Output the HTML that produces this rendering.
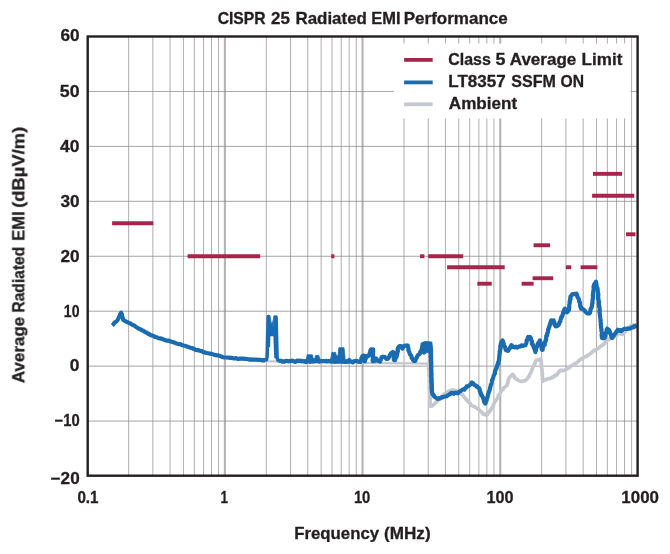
<!DOCTYPE html>
<html><head><meta charset="utf-8"><title>CISPR 25 Radiated EMI Performance</title>
<style>html,body{margin:0;padding:0;background:#fff;}body{width:670px;height:554px;overflow:hidden;font-family:"Liberation Sans",sans-serif;}svg{display:block}</style>
</head><body>
<svg width="670" height="554" viewBox="0 0 670 554">
<rect width="670" height="554" fill="#fff"/>
<g><line x1="128.64" y1="36.5" x2="128.64" y2="476.0" stroke="#aeaeae" stroke-width="1.0"/><line x1="152.89" y1="36.5" x2="152.89" y2="476.0" stroke="#aeaeae" stroke-width="1.0"/><line x1="170.09" y1="36.5" x2="170.09" y2="476.0" stroke="#aeaeae" stroke-width="1.0"/><line x1="183.43" y1="36.5" x2="183.43" y2="476.0" stroke="#aeaeae" stroke-width="1.0"/><line x1="194.33" y1="36.5" x2="194.33" y2="476.0" stroke="#aeaeae" stroke-width="1.0"/><line x1="203.55" y1="36.5" x2="203.55" y2="476.0" stroke="#aeaeae" stroke-width="1.0"/><line x1="211.53" y1="36.5" x2="211.53" y2="476.0" stroke="#aeaeae" stroke-width="1.0"/><line x1="218.58" y1="36.5" x2="218.58" y2="476.0" stroke="#aeaeae" stroke-width="1.0"/><line x1="224.88" y1="36.5" x2="224.88" y2="476.0" stroke="#b4b4b4" stroke-width="2.1"/><line x1="266.32" y1="36.5" x2="266.32" y2="476.0" stroke="#aeaeae" stroke-width="1.0"/><line x1="290.56" y1="36.5" x2="290.56" y2="476.0" stroke="#aeaeae" stroke-width="1.0"/><line x1="307.76" y1="36.5" x2="307.76" y2="476.0" stroke="#aeaeae" stroke-width="1.0"/><line x1="321.11" y1="36.5" x2="321.11" y2="476.0" stroke="#aeaeae" stroke-width="1.0"/><line x1="332.01" y1="36.5" x2="332.01" y2="476.0" stroke="#aeaeae" stroke-width="1.0"/><line x1="341.22" y1="36.5" x2="341.22" y2="476.0" stroke="#aeaeae" stroke-width="1.0"/><line x1="349.21" y1="36.5" x2="349.21" y2="476.0" stroke="#aeaeae" stroke-width="1.0"/><line x1="356.25" y1="36.5" x2="356.25" y2="476.0" stroke="#aeaeae" stroke-width="1.0"/><line x1="362.55" y1="36.5" x2="362.55" y2="476.0" stroke="#b4b4b4" stroke-width="2.1"/><line x1="403.99" y1="36.5" x2="403.99" y2="476.0" stroke="#aeaeae" stroke-width="1.0"/><line x1="428.24" y1="36.5" x2="428.24" y2="476.0" stroke="#aeaeae" stroke-width="1.0"/><line x1="445.44" y1="36.5" x2="445.44" y2="476.0" stroke="#aeaeae" stroke-width="1.0"/><line x1="458.78" y1="36.5" x2="458.78" y2="476.0" stroke="#aeaeae" stroke-width="1.0"/><line x1="469.68" y1="36.5" x2="469.68" y2="476.0" stroke="#aeaeae" stroke-width="1.0"/><line x1="478.90" y1="36.5" x2="478.90" y2="476.0" stroke="#aeaeae" stroke-width="1.0"/><line x1="486.88" y1="36.5" x2="486.88" y2="476.0" stroke="#aeaeae" stroke-width="1.0"/><line x1="493.93" y1="36.5" x2="493.93" y2="476.0" stroke="#aeaeae" stroke-width="1.0"/><line x1="500.22" y1="36.5" x2="500.22" y2="476.0" stroke="#b4b4b4" stroke-width="2.1"/><line x1="541.67" y1="36.5" x2="541.67" y2="476.0" stroke="#aeaeae" stroke-width="1.0"/><line x1="565.91" y1="36.5" x2="565.91" y2="476.0" stroke="#aeaeae" stroke-width="1.0"/><line x1="583.11" y1="36.5" x2="583.11" y2="476.0" stroke="#aeaeae" stroke-width="1.0"/><line x1="596.46" y1="36.5" x2="596.46" y2="476.0" stroke="#aeaeae" stroke-width="1.0"/><line x1="607.36" y1="36.5" x2="607.36" y2="476.0" stroke="#aeaeae" stroke-width="1.0"/><line x1="616.57" y1="36.5" x2="616.57" y2="476.0" stroke="#aeaeae" stroke-width="1.0"/><line x1="624.56" y1="36.5" x2="624.56" y2="476.0" stroke="#aeaeae" stroke-width="1.0"/><line x1="631.60" y1="36.5" x2="631.60" y2="476.0" stroke="#aeaeae" stroke-width="1.0"/></g>
<g><line x1="87.2" y1="421.06" x2="637.9" y2="421.06" stroke="#858585" stroke-width="0.75"/><line x1="87.2" y1="366.12" x2="637.9" y2="366.12" stroke="#858585" stroke-width="0.75"/><line x1="87.2" y1="311.19" x2="637.9" y2="311.19" stroke="#858585" stroke-width="0.75"/><line x1="87.2" y1="256.25" x2="637.9" y2="256.25" stroke="#858585" stroke-width="0.75"/><line x1="87.2" y1="201.31" x2="637.9" y2="201.31" stroke="#858585" stroke-width="0.75"/><line x1="87.2" y1="146.38" x2="637.9" y2="146.38" stroke="#858585" stroke-width="0.75"/><line x1="87.2" y1="91.44" x2="637.9" y2="91.44" stroke="#858585" stroke-width="0.75"/></g>
<polyline fill="none" stroke="#c6c8d0" stroke-width="2.2" stroke-linejoin="round" stroke-linecap="butt" points="112.4,325.6 117.6,320.6 121.2,314.0 123.3,320.5 128.4,323.2 137.3,328.3 144.8,332.6 152.2,336.6 159.7,339.3 170.1,342.2 183.6,346.2 194.0,349.6 209.9,354.2 224.9,358.0 239.8,359.3 254.7,360.3 265.1,361.2 285.0,361.8 305.0,362.0 330.0,362.2 355.0,363.0 380.0,363.2 415.0,363.3 428.5,363.6"/>
<polyline fill="none" stroke="#c6c8d0" stroke-width="3.7" stroke-linejoin="round" stroke-linecap="butt" points="428.5,363.6 428.5,364.5 428.7,365.7 428.8,367.3 428.6,368.7 428.7,369.8 428.8,370.8 429.1,372.7 429.0,373.4 429.3,375.4 429.4,376.1 429.6,377.1 429.7,378.5 429.6,380.0 429.5,380.9 429.6,382.8 429.6,383.8 429.8,384.9 429.8,385.8 429.6,387.2 429.9,388.7 429.8,390.1 429.9,391.0 430.1,392.7 429.9,393.8 430.0,395.3 430.1,396.0 430.3,397.1 430.1,398.9 430.0,400.0 430.0,401.4 430.3,402.5 430.4,403.5 430.4,405.0 430.3,406.2 431.2,405.9 432.3,406.0 433.0,405.3 433.9,404.5 434.7,403.7 435.8,402.6 436.7,402.3 437.5,400.9 438.1,400.4 439.0,399.5 439.6,398.6 440.5,397.5 441.3,397.2 442.1,395.9 443.0,395.7 443.9,394.5 444.7,393.7 446.0,393.3 447.1,392.6 448.0,391.5 448.9,391.0 449.9,391.1 451.2,390.1 452.0,390.0 453.0,390.0 454.1,390.4 455.4,390.5 456.5,390.9 457.4,391.5 458.6,392.4 459.9,393.2 460.8,393.9 461.9,394.5 462.8,395.0 463.6,396.6 464.4,397.5 464.9,398.0 465.6,399.1 466.3,399.5 467.3,400.8 468.1,401.4 469.1,402.2 469.8,403.2 470.8,404.3 471.7,405.6 472.8,406.2 473.9,406.4 474.8,407.1 476.0,407.5 477.3,408.8 478.2,408.9 479.1,409.8 479.8,410.3 480.8,411.4 481.9,412.2 482.7,413.4 483.4,414.3 484.5,414.0 485.4,414.4 486.3,415.3 487.1,414.8 488.0,413.6 488.4,412.4 489.2,411.9 490.1,411.0 490.8,409.8 491.3,408.5 492.1,408.0 492.8,406.8 493.3,405.6 493.7,404.3 494.3,402.8 494.8,401.9 495.5,401.2 496.2,399.9 497.0,398.8 497.5,398.3 498.1,396.7 498.3,395.6 498.9,394.6 499.6,394.2 500.3,392.8 500.7,391.8 501.4,391.2 501.9,390.1 502.9,389.4 503.4,388.2 504.4,387.4 505.1,386.9 506.1,386.1 507.1,385.0 507.6,383.7 507.7,382.9 508.2,381.0 508.3,379.7 508.9,379.0 509.1,377.5 509.8,377.0 511.1,376.1 511.7,375.2 512.6,374.4 513.1,374.9 514.2,376.4 514.7,377.6 515.4,378.5 516.1,379.1 517.2,379.3 517.9,379.8 518.8,380.6 519.8,380.9 520.8,381.4 521.8,381.5 523.1,380.8 524.4,380.9 525.5,380.3 526.3,379.8 527.3,378.5 528.1,377.2 529.0,376.7 529.5,375.2 529.8,374.6 530.4,373.2 531.1,372.1 531.4,370.9 532.0,369.9 532.5,368.5 532.8,367.4 533.4,366.0 534.2,365.0 534.6,364.0 535.3,362.6 535.6,361.5 536.1,360.3 537.3,360.2 538.4,359.7 539.5,359.8 540.7,359.1 540.9,360.6 541.2,361.2 541.2,363.0 541.5,363.5 541.3,364.9 541.4,365.9 541.6,367.5 541.9,368.5 542.1,370.1 541.9,371.3 542.2,372.0 542.4,374.1 542.1,375.4 542.3,376.2 542.6,377.8 542.3,378.8 542.5,380.0 542.6,381.4 543.4,380.7 544.6,379.9 545.4,379.8 546.6,379.4 547.5,378.9 549.0,378.7 549.9,378.7 551.3,377.9 552.4,377.7 553.1,376.5 554.0,376.4 555.1,375.2 556.2,375.4 557.2,374.4 557.9,373.3 558.2,373.0 559.0,372.0 559.5,370.9 560.5,370.3 561.9,370.4 562.8,370.6 564.3,370.2 565.4,369.7 566.2,369.4 567.1,368.9 568.2,367.8 569.2,367.8 570.1,366.8 571.1,365.9 572.3,365.4 573.2,364.7 574.3,364.1 575.6,363.8 576.5,362.8 577.7,362.0 578.5,361.2 579.4,360.2 580.3,359.4 581.4,359.1 582.5,358.6 583.2,357.9 584.5,357.0 585.5,356.7 586.3,356.5 587.3,355.6 588.2,354.9 589.3,354.6 590.0,353.8 591.2,352.9 592.0,352.1 592.9,351.4 593.7,350.6 594.7,350.6 595.8,349.5 596.6,349.5 597.8,348.6 598.9,348.1 599.6,347.0 600.5,346.5 601.4,345.8 602.5,345.1 603.2,344.7 604.3,343.6 604.7,343.2 605.5,341.8 606.2,341.1 607.2,340.4 608.1,339.9 608.9,339.4 609.8,338.7 610.8,338.4 611.9,338.0 612.7,336.9 613.8,336.4 615.0,336.0 616.1,335.5 617.1,335.0 617.9,333.8 619.0,333.3 620.4,333.4 621.4,334.2 622.5,334.5 623.1,333.8 624.3,332.6 625.1,331.8 625.7,330.5 626.6,329.8 627.6,328.8 628.3,327.5 629.3,327.4 630.3,326.7 631.0,325.6 631.9,325.5 633.0,325.1 634.0,325.8 635.4,326.0 636.6,326.3"/>
<polyline fill="none" stroke="#1b6bb0" stroke-width="4.2" stroke-linejoin="round" stroke-linecap="butt" points="112.2,325.3 113.6,324.1 114.9,322.3 116.4,321.5 117.6,320.0 118.3,318.6 119.1,316.8 119.8,315.4 120.3,314.0 121.2,312.7 121.8,314.3 122.3,316.7 122.8,318.1 123.3,320.0 125.0,321.0 126.8,321.8 128.4,322.6 129.9,323.2 131.2,324.1 132.9,325.0 134.4,325.7 135.7,326.7 137.3,327.7 138.9,328.7 140.4,329.2 141.8,330.2 143.3,330.8 144.8,331.9 146.4,332.4 147.9,333.7 149.1,334.1 150.8,335.2 152.2,335.6 153.7,336.0 155.1,337.0 156.6,337.3 158.1,337.9 159.7,338.4 161.6,338.6 163.3,339.4 165.0,340.0 166.5,340.6 168.4,340.5 170.1,341.3 171.6,341.8 173.5,342.2 175.0,342.8 176.8,343.6 178.4,344.1 180.3,344.2 182.1,345.1 183.6,345.5 185.5,345.9 187.0,346.6 189.0,347.3 190.5,347.8 192.2,348.1 194.0,349.0 195.4,349.7 196.9,350.2 198.4,350.2 200.0,350.8 201.7,351.1 203.3,352.1 205.1,352.5 206.6,353.0 208.4,353.3 209.9,353.7 211.9,353.9 213.7,354.6 215.6,355.2 217.3,355.3 219.4,355.8 221.1,356.4 223.0,357.2 224.9,357.5 226.9,357.5 228.7,357.7 230.5,357.9 232.2,357.9 234.1,358.5 236.1,358.2 238.1,358.9 239.8,358.7 241.6,358.6 243.4,358.7 245.3,358.8 247.2,359.0 249.1,359.6 251.1,359.4 252.8,359.6 254.7,359.7 256.4,359.7 258.1,359.8 260.2,359.8 261.8,360.3 263.7,360.1 265.3,360.4"/>
<polyline fill="none" stroke="#1b6bb0" stroke-width="4.2" stroke-linejoin="round" stroke-linecap="butt" points="278.6,361.0 280.1,360.9 280.8,360.7 281.8,361.1 282.4,361.7 283.6,361.4 284.4,361.7 285.0,361.2 285.7,360.9 287.0,360.9 288.0,361.2 288.5,361.3 289.3,361.2 290.7,361.2 291.8,360.6 292.4,360.9 293.1,360.9 294.2,361.5 295.3,362.0 296.2,361.4 296.9,360.7 298.1,361.0 298.7,360.7 299.6,361.0 300.6,360.6 301.6,361.3 302.5,360.9 303.6,361.4 304.8,361.6 305.3,361.2 306.0,362.0 307.3,361.4 307.9,361.1 309.1,361.2 310.3,361.8 310.8,361.4 312.0,361.3 312.8,361.5 313.6,361.5 314.9,361.1 315.4,360.6 316.6,361.0 317.5,360.5 318.6,361.3 319.4,361.6 320.4,360.9 321.5,361.1 322.4,361.3 323.4,361.1 324.3,361.0 325.0,361.1 326.2,360.9 327.1,361.4 328.0,361.2 329.3,361.1 330.0,361.2 331.1,361.6 332.0,361.4 332.8,360.9 333.8,361.3 334.8,361.8 335.4,361.2 336.7,361.7 337.5,361.5 338.6,361.6 339.1,361.1 340.2,361.3 341.0,361.6 341.8,361.7 342.8,361.4 343.5,361.5 344.7,361.9 345.8,361.9 346.4,361.3 347.4,361.1 348.3,361.6 349.2,361.5 350.2,361.5 351.2,361.5 352.0,361.8 352.9,362.4 353.4,361.7 353.8,361.6 354.7,361.0 356.0,360.9 357.2,361.1 358.0,361.6 359.4,361.6 360.5,361.9 360.9,361.0 360.9,360.4 361.2,360.4 361.4,358.9 361.4,358.0 362.0,357.0 362.1,356.8 362.8,355.8 364.0,355.7 365.2,356.0 365.4,356.9 365.0,357.7 364.7,358.9 365.0,359.9 364.9,361.0 364.8,361.4 365.0,360.8 365.1,359.8 365.6,358.7 366.2,357.8 366.2,356.8 366.8,357.0 367.5,355.9 368.0,356.0 369.0,355.6 369.1,355.1 369.4,353.8 369.5,353.9 370.2,352.5 370.3,350.8 370.6,350.5 371.2,349.3 372.3,349.7 373.2,349.5 373.1,350.3 373.3,351.3 372.8,352.4 373.0,353.7 373.1,355.0 373.0,356.4 373.0,357.1 372.8,357.7 372.8,359.0 372.6,360.4 372.8,361.1 373.8,361.2 374.2,361.2 374.4,360.8 375.0,359.5 375.4,358.5 376.0,358.4 376.2,359.4 376.9,359.6 377.7,360.5 378.0,361.0 379.2,361.0 380.0,361.6 380.3,360.9 380.7,359.9 381.0,358.9 381.1,358.7 381.6,357.2 382.5,356.8 383.9,356.9 385.0,357.0 385.6,358.0 386.5,359.0 387.1,359.0 388.0,358.6 388.8,357.5 389.4,357.1 389.6,355.8 390.0,354.7 390.4,354.3 391.0,353.1 391.5,353.0 392.3,352.3 392.6,352.0 393.4,352.2 393.6,353.0 393.7,353.4 393.9,354.4 393.8,355.1 393.9,356.8 394.1,358.0 393.8,359.4 394.2,360.1 395.2,360.1 395.2,358.8 395.6,358.4 395.8,357.7 396.4,357.1 396.8,355.8 396.9,355.2 397.2,354.1 397.4,352.7 397.3,351.7 397.9,351.4 397.9,350.0 397.6,349.5 398.0,348.0 398.5,347.3 399.2,346.2 400.3,346.0 401.5,346.2 401.9,347.3 401.8,347.6 402.4,348.6 402.5,348.5 403.1,347.4 403.5,346.0 403.6,346.0 404.0,346.4 405.2,345.5 406.3,345.7 407.2,345.3 407.8,345.6 407.7,346.1 408.3,347.7 408.4,349.0 408.4,350.4 408.8,351.0 409.0,351.4 409.4,352.7 410.0,354.1 410.0,354.5 410.9,355.3 411.5,356.5 411.7,358.1 412.4,358.5 412.8,359.7 413.0,360.1 414.0,361.1 414.7,360.9 415.4,360.8 415.7,359.6 415.9,359.1 416.5,358.0 416.8,357.7 417.1,356.7 417.6,355.6 418.5,354.7 419.5,354.0 419.8,353.8 420.1,352.5 420.6,351.5 421.2,350.4 421.6,349.4 422.0,349.0 421.9,347.5 422.2,347.0 422.4,345.7 422.6,344.2 422.8,344.0 423.8,344.1 424.9,343.5 425.7,343.2 426.6,343.9 427.3,343.6 428.0,343.3 428.8,344.0 429.6,343.6 429.3,344.9 429.7,345.2 429.9,346.1 430.2,346.8 430.3,348.1 430.3,348.3 430.3,349.0 430.6,350.0 431.0,350.4 430.7,352.0 430.8,353.2 430.8,354.0 430.8,355.4 430.5,356.6 430.9,357.5 431.0,359.1 430.9,359.4 430.8,361.0 431.0,361.2 430.9,362.1 430.9,363.1 431.2,363.6 430.9,365.5 431.1,366.4 431.1,367.0 430.9,368.7 431.1,369.3 431.2,370.7 431.1,371.8 431.3,372.9 431.4,374.1 431.4,374.4 431.1,375.5 431.3,376.8 431.3,377.9 431.5,378.8 431.6,379.2 431.2,380.3 431.5,381.0 431.3,382.1 431.5,382.8 431.7,384.3 431.7,385.8 431.7,386.0 431.8,387.4 431.6,388.0 431.7,388.6 432.0,389.8 431.8,391.0 432.0,391.9 432.2,393.1 432.3,393.5 432.5,394.4 433.3,394.6 433.9,395.5 434.0,396.3 434.3,396.5 435.2,397.3 436.3,398.0 436.6,398.0 437.6,399.0 438.6,398.8 439.0,398.2 439.9,398.5 440.5,397.9 441.6,397.7 442.1,397.2 443.0,397.1 443.7,396.7 444.9,396.5 445.9,396.5 446.6,396.3 447.5,395.3 448.2,395.2 449.0,394.7 449.5,394.3 450.5,393.3 451.1,393.6 451.8,392.8 453.0,393.4 454.0,393.8 454.5,392.9 455.6,392.7 456.5,393.0 457.6,393.3 458.3,392.7 459.0,391.7 459.7,391.5 460.9,391.0 461.5,390.3 462.3,389.8 462.9,389.4 463.7,389.1 464.5,389.5 465.0,388.5 465.4,388.0 466.4,387.3 466.7,386.3 467.8,386.3 468.7,386.0 469.2,385.5 470.2,384.8 470.9,383.9 471.0,383.2 471.9,382.4 472.2,382.6 473.2,383.2 473.7,384.6 474.1,384.7 475.2,385.1 475.5,385.5 476.0,385.5 476.7,386.6 477.4,386.7 477.9,387.6 479.1,388.2 479.2,388.3 479.8,389.8 479.7,391.1 480.4,391.8 480.6,393.6 481.3,393.9 481.3,395.2 481.8,395.5 482.0,395.6 482.7,397.2 483.2,397.6 483.3,398.8 483.8,399.0 483.9,400.2 484.0,401.6 484.7,402.2 485.2,403.4 485.4,403.5 485.8,402.0 485.8,401.8 486.3,401.5 486.5,400.5 486.7,400.0 486.8,398.2 487.6,397.1 487.6,396.7 488.0,394.8 488.5,393.4 488.6,393.4 488.5,392.8 489.0,391.8 489.6,390.3 489.7,390.1 489.8,389.4 490.1,388.0 490.1,387.6 490.6,386.2 490.8,384.9 491.0,384.8 491.3,383.8 491.7,382.6 491.8,382.0 492.0,380.9 492.0,380.5 492.6,379.2 492.8,378.5 493.2,377.3 493.5,376.2 493.7,375.4 494.0,375.1 494.5,374.0 495.0,373.4 494.8,372.0 495.3,370.6 495.7,369.8 495.6,369.8 496.2,368.3 496.7,367.9 496.9,366.5 497.3,365.2 497.5,364.5 497.9,363.5 498.5,363.3 498.3,362.1 498.7,361.0 498.9,360.5 498.9,360.2 499.1,358.7 499.1,358.0 499.3,356.7 499.4,356.4 499.4,354.9 499.8,353.5 499.8,352.8 499.6,351.6 500.1,351.3 500.1,350.2 500.2,348.9 500.6,348.6 500.4,347.0 500.2,346.7 500.5,345.3 501.0,345.0 500.9,343.5 501.3,342.3 501.6,341.9 502.3,341.5 502.5,340.3 503.0,341.4 503.4,342.8 503.5,342.9 503.6,343.2 504.0,344.8 504.4,346.0 505.0,347.1 505.3,348.4 505.6,348.8 505.7,349.9 506.2,350.3 507.4,350.2 507.9,350.9 508.5,350.3 508.9,349.2 509.8,348.3 510.2,347.1 510.6,346.8 510.8,346.3 511.4,345.1 512.1,345.6 512.5,346.2 512.8,347.0 513.7,347.0 514.9,347.4 515.9,346.7 516.5,346.9 517.3,347.6 518.0,347.1 518.9,346.8 519.2,346.4 520.0,346.4 520.8,346.2 521.4,345.4 522.5,345.6 523.0,345.8 524.1,345.3 524.7,345.3 525.5,345.1 525.8,344.2 526.2,343.2 526.6,342.1 526.6,340.4 527.1,340.0 527.8,339.0 527.7,338.4 527.7,337.9 528.3,336.9 529.3,337.2 530.2,337.1 530.7,338.0 531.0,338.9 531.2,340.2 531.6,340.4 532.0,342.0 531.8,343.7 532.4,343.8 532.9,344.7 533.0,345.5 533.4,346.1 533.7,347.4 534.2,348.0 534.3,348.9 535.0,350.1 535.0,350.6 535.4,352.0 535.4,352.1 535.5,350.7 535.9,350.7 535.8,349.5 536.2,349.2 536.2,347.5 536.8,347.1 537.1,346.8 537.3,345.4 537.5,345.3 537.7,343.9 538.5,342.7 538.6,342.8 539.2,341.8 539.7,340.9 540.0,340.4 539.9,341.9 540.4,342.1 540.4,343.0 540.8,343.8 541.2,345.5 541.3,345.9 541.5,346.9 541.6,348.3 541.7,348.5 541.9,349.8 542.7,349.8 542.7,348.3 542.9,346.6 543.4,346.3 543.7,345.5 544.3,345.1 544.8,344.7 544.6,343.0 545.2,341.5 545.3,341.4 545.8,340.9 545.8,339.8 546.1,339.4 546.2,337.5 546.2,336.0 546.9,335.6 547.2,335.4 547.1,333.9 547.6,332.8 547.8,332.2 548.0,331.7 548.2,330.4 548.1,329.4 548.7,328.9 548.8,327.3 549.3,326.9 549.6,325.7 549.8,325.4 549.8,324.2 550.2,324.1 550.6,322.2 550.7,321.8 551.2,320.7 551.3,320.4 552.4,320.5 553.7,320.4 553.6,321.9 554.3,322.1 554.6,323.2 554.5,324.7 554.9,324.9 555.5,326.2 555.5,326.3 555.9,325.9 556.9,325.6 557.3,326.0 558.3,325.1 558.9,324.5 559.1,323.4 559.4,322.5 559.9,322.0 560.4,321.2 560.4,320.5 560.8,319.0 561.0,318.6 561.3,317.1 561.9,316.9 562.3,316.1 562.5,315.1 562.9,313.8 563.0,313.5 563.5,312.0 563.8,310.9 564.5,310.1 564.4,309.1 564.9,308.7 565.5,309.4 565.6,310.5 565.9,311.3 566.6,312.2 567.0,312.3 567.8,311.1 568.0,311.2 568.9,309.9 568.7,309.5 569.2,307.9 569.3,306.6 569.2,306.2 569.3,304.9 569.6,303.6 569.8,303.0 569.6,301.7 569.7,301.3 569.9,301.0 570.2,299.2 570.6,299.0 570.3,297.5 570.6,296.3 571.4,295.8 572.2,294.3 572.4,294.2 573.7,294.1 574.6,293.8 575.2,294.1 576.3,293.6 576.7,294.6 577.2,295.2 577.2,296.2 577.3,296.3 578.0,297.8 578.6,298.9 579.1,299.7 579.1,300.5 579.1,301.2 579.5,302.1 580.0,302.5 580.0,303.8 580.1,304.1 580.2,305.5 580.2,306.6 580.8,306.9 581.1,307.3 581.0,308.7 581.5,308.2 582.5,309.0 583.2,309.4 583.8,309.9 584.2,310.0 584.9,310.9 585.6,312.0 586.2,312.5 587.3,313.4 588.5,313.3 589.6,313.4 590.1,312.6 590.2,311.6 590.5,310.4 590.6,308.9 591.1,308.6 591.5,307.8 591.6,307.2 592.0,305.5 592.0,305.2 592.3,304.1 592.2,303.5 592.6,303.1 592.5,301.6 592.5,299.9 592.6,299.6 593.0,298.5 592.9,297.4 593.2,296.2 592.9,295.7 592.8,295.3 593.1,294.0 593.1,292.2 593.3,291.4 593.5,290.2 593.6,289.1 593.8,287.7 593.5,286.7 593.9,285.7 594.1,284.9 594.3,284.1 594.5,283.9 595.2,283.0 595.8,282.9 596.0,281.7 596.1,283.0 596.4,283.7 596.4,285.0 596.6,285.5 596.5,287.1 597.0,287.6 597.6,288.5 597.6,289.5 597.7,290.3 597.8,291.1 597.8,291.5 597.8,293.3 598.4,293.9 598.3,295.4 598.0,295.5 598.2,296.8 598.1,298.3 598.4,298.7 598.3,299.4 598.8,301.2 599.0,301.8 599.0,303.2 598.7,304.2 599.1,304.8 599.2,305.8 599.1,306.7 599.5,307.1 599.6,308.8 599.8,310.1 599.6,310.9 599.3,311.3 599.7,312.8 599.8,313.9 599.9,315.1 599.9,315.4 600.2,316.9 600.2,317.3 600.3,318.7 600.6,320.3 600.7,320.7 600.5,321.8 600.8,322.7 601.0,323.1 600.7,324.5 601.1,326.3 601.0,326.7 601.0,327.5 601.2,328.6 601.6,329.4 601.4,330.1 601.5,331.7 601.7,332.0 602.0,332.7 601.9,333.9 601.6,334.7 601.8,335.9 601.9,337.7 602.1,338.0 603.3,338.3 604.4,338.0 604.8,337.7 604.8,336.1 605.4,335.8 605.5,334.5 605.4,333.5 606.0,332.4 606.6,332.3 606.6,330.8 606.7,329.6 607.2,328.7 607.9,329.2 608.3,330.2 609.0,329.9 609.6,331.0 609.8,331.8 610.1,332.6 610.1,333.0 610.8,334.5 611.4,335.8 611.2,336.3 611.9,337.4 611.9,338.0 612.6,337.9 612.9,336.6 613.9,335.2 614.3,335.1 615.0,333.8 615.4,333.3 616.0,332.3 616.2,332.0 617.0,330.9 617.8,329.8 618.8,330.6 619.7,330.1 620.6,330.2 621.3,331.0 622.0,330.4 622.6,329.9 623.5,329.3 624.5,328.7 624.8,328.7 625.6,328.9 626.7,328.7 627.2,328.8 628.3,328.7 629.4,328.7 629.8,328.6 630.4,328.2 631.3,327.9 632.2,327.2 633.0,327.5 634.2,326.9 634.6,325.9 635.5,326.0 635.9,325.4 636.6,325.1"/>
<polyline fill="none" stroke="#1b6bb0" stroke-width="3.5" stroke-linejoin="round" stroke-linecap="butt" points="264.8,360.4 266.5,359.6 267.1,357.0 268.2,316.4 268.9,316.4 268.4,346.0 268.7,333.0 270.0,328.0 272.6,328.0 275.0,333.0 275.9,357.0 275.3,330.0 274.9,316.9 276.1,316.9 277.1,357.0 277.6,359.8 279.2,361.0"/>
<polygon fill="#1b6bb0" stroke="#1b6bb0" stroke-width="0.8" stroke-linejoin="round" points="420.8,352.5 422.2,344 423,342 431.9,342 432.6,350 433.2,391 430.4,391 429.6,353 427,352.5 424,354.5"/>
<polygon fill="#1b6bb0" points="270.3,317 271.9,323.6 273.4,317 273.9,336.3 269.6,336.3"/>
<polygon fill="#1b6bb0" stroke="#1b6bb0" stroke-width="0.8" stroke-linejoin="round" points="304.6,361.0 306.3,359.4 307.2,354.8 312.4,354.8 313.2,358.6 314.8,358.6 315.5,355.4 318.9,355.4 319.8,359.4 321.0,361.0 321.0,362.8 304.6,362.8"/>
<polygon fill="#1b6bb0" stroke="#1b6bb0" stroke-width="0.8" stroke-linejoin="round" points="329.6,361.0 331.2,357.0 331.8,352.4 335.6,352.4 336.4,355.8 338.0,355.8 338.5,350.0 338.9,347.7 344.0,347.7 344.5,352.0 345.2,359.6 346.0,361.0 346.0,362.8 329.6,362.8"/>
<polygon fill="#1b6bb0" stroke="#1b6bb0" stroke-width="0.8" stroke-linejoin="round" points="347.0,361.0 348.2,358.3 350.2,358.3 351.4,361.0 351.4,362.8 347.0,362.8"/>
<rect x="394" y="43.6" width="236.6" height="74.8" fill="#fff"/>
<line x1="112.1" y1="223.29" x2="153.3" y2="223.29" stroke="#a8244c" stroke-width="3.9"/>
<line x1="187.6" y1="256.25" x2="260.2" y2="256.25" stroke="#a8244c" stroke-width="3.9"/>
<line x1="331.2" y1="256.25" x2="334.4" y2="256.25" stroke="#a8244c" stroke-width="3.9"/>
<line x1="420" y1="256.25" x2="424.4" y2="256.25" stroke="#a8244c" stroke-width="3.9"/>
<line x1="428.2" y1="256.25" x2="463.2" y2="256.25" stroke="#a8244c" stroke-width="3.9"/>
<line x1="447.1" y1="267.24" x2="504.7" y2="267.24" stroke="#a8244c" stroke-width="3.9"/>
<line x1="565.9" y1="267.24" x2="571.3" y2="267.24" stroke="#a8244c" stroke-width="3.9"/>
<line x1="580.6" y1="267.24" x2="597.4" y2="267.24" stroke="#a8244c" stroke-width="3.9"/>
<line x1="477.3" y1="283.72" x2="491.7" y2="283.72" stroke="#a8244c" stroke-width="3.9"/>
<line x1="521.6" y1="283.72" x2="533.6" y2="283.72" stroke="#a8244c" stroke-width="3.9"/>
<line x1="532.6" y1="278.23" x2="553.2" y2="278.23" stroke="#a8244c" stroke-width="3.9"/>
<line x1="533.6" y1="245.26" x2="550.1" y2="245.26" stroke="#a8244c" stroke-width="3.9"/>
<line x1="593" y1="173.84" x2="622" y2="173.84" stroke="#a8244c" stroke-width="3.9"/>
<line x1="592.1" y1="195.82" x2="634.3" y2="195.82" stroke="#a8244c" stroke-width="3.9"/>
<line x1="626" y1="234.28" x2="635.5" y2="234.28" stroke="#a8244c" stroke-width="3.9"/>
<rect x="87.7" y="36.5" width="549.90" height="439.2" fill="none" stroke="#231f20" stroke-width="2.4"/>
<line x1="404.1" y1="59.9" x2="432.7" y2="59.9" stroke="#a8244c" stroke-width="3.8"/>
<line x1="404.1" y1="82.4" x2="432.7" y2="82.4" stroke="#1b6bb0" stroke-width="3.8"/>
<line x1="404.1" y1="104.3" x2="432.7" y2="104.3" stroke="#c6c8d0" stroke-width="3.8"/>
<g opacity="0.999">
<text x="217.66" y="23.7" font-size="16.4" textLength="48.01" lengthAdjust="spacingAndGlyphs" font-family="Liberation Sans, sans-serif" font-weight="bold" fill="#231f20" stroke="#231f20" stroke-width="0.3">CISPR</text>
<text x="271.11" y="23.7" font-size="16.4" textLength="18.84" lengthAdjust="spacingAndGlyphs" font-family="Liberation Sans, sans-serif" font-weight="bold" fill="#231f20" stroke="#231f20" stroke-width="0.3">25</text>
<text x="295.45" y="23.7" font-size="16.4" textLength="71.44" lengthAdjust="spacingAndGlyphs" font-family="Liberation Sans, sans-serif" font-weight="bold" fill="#231f20" stroke="#231f20" stroke-width="0.3">Radiated</text>
<text x="371.17" y="23.7" font-size="16.4" textLength="29.30" lengthAdjust="spacingAndGlyphs" font-family="Liberation Sans, sans-serif" font-weight="bold" fill="#231f20" stroke="#231f20" stroke-width="0.3">EMI</text>
<text x="403.74" y="23.7" font-size="16.4" textLength="104.04" lengthAdjust="spacingAndGlyphs" font-family="Liberation Sans, sans-serif" font-weight="bold" fill="#231f20" stroke="#231f20" stroke-width="0.3">Performance</text>
<text x="448.25" y="65.4" font-size="16.4" textLength="42.57" lengthAdjust="spacingAndGlyphs" font-family="Liberation Sans, sans-serif" font-weight="bold" fill="#231f20" stroke="#231f20" stroke-width="0.3">Class</text>
<text x="495.59" y="65.4" font-size="16.4" textLength="9.95" lengthAdjust="spacingAndGlyphs" font-family="Liberation Sans, sans-serif" font-weight="bold" fill="#231f20" stroke="#231f20" stroke-width="0.3">5</text>
<text x="509.71" y="65.4" font-size="16.4" textLength="66.64" lengthAdjust="spacingAndGlyphs" font-family="Liberation Sans, sans-serif" font-weight="bold" fill="#231f20" stroke="#231f20" stroke-width="0.3">Average</text>
<text x="581.64" y="65.4" font-size="16.4" textLength="40.75" lengthAdjust="spacingAndGlyphs" font-family="Liberation Sans, sans-serif" font-weight="bold" fill="#231f20" stroke="#231f20" stroke-width="0.3">Limit</text>
<text x="448.34" y="87.2" font-size="16.4" textLength="57.37" lengthAdjust="spacingAndGlyphs" font-family="Liberation Sans, sans-serif" font-weight="bold" fill="#231f20" stroke="#231f20" stroke-width="0.3">LT8357</text>
<text x="511.34" y="87.2" font-size="16.4" textLength="44.53" lengthAdjust="spacingAndGlyphs" font-family="Liberation Sans, sans-serif" font-weight="bold" fill="#231f20" stroke="#231f20" stroke-width="0.3">SSFM</text>
<text x="560.46" y="87.2" font-size="16.4" textLength="23.48" lengthAdjust="spacingAndGlyphs" font-family="Liberation Sans, sans-serif" font-weight="bold" fill="#231f20" stroke="#231f20" stroke-width="0.3">ON</text>
<text x="448.81" y="109.0" font-size="16.4" textLength="68.42" lengthAdjust="spacingAndGlyphs" font-family="Liberation Sans, sans-serif" font-weight="bold" fill="#231f20" stroke="#231f20" stroke-width="0.3">Ambient</text>
<text x="294.15" y="538.7" font-size="16.4" textLength="84.95" lengthAdjust="spacingAndGlyphs" font-family="Liberation Sans, sans-serif" font-weight="bold" fill="#231f20" stroke="#231f20" stroke-width="0.3">Frequency</text>
<text x="384.11" y="538.7" font-size="16.4" textLength="46.50" lengthAdjust="spacingAndGlyphs" font-family="Liberation Sans, sans-serif" font-weight="bold" fill="#231f20" stroke="#231f20" stroke-width="0.3">(MHz)</text>
<g transform="translate(24.3,383.1) rotate(-90)">
<text x="0.01" y="0" font-size="16.4" textLength="66.24" lengthAdjust="spacingAndGlyphs" font-family="Liberation Sans, sans-serif" font-weight="bold" fill="#231f20" stroke="#231f20" stroke-width="0.3">Average</text>
<text x="70.41" y="0" font-size="16.4" textLength="65.91" lengthAdjust="spacingAndGlyphs" font-family="Liberation Sans, sans-serif" font-weight="bold" fill="#231f20" stroke="#231f20" stroke-width="0.3">Radiated</text>
<text x="142.26" y="0" font-size="16.4" textLength="29.51" lengthAdjust="spacingAndGlyphs" font-family="Liberation Sans, sans-serif" font-weight="bold" fill="#231f20" stroke="#231f20" stroke-width="0.3">EMI</text>
<text x="175.26" y="0" font-size="16.4" textLength="81.04" lengthAdjust="spacingAndGlyphs" font-family="Liberation Sans, sans-serif" font-weight="bold" fill="#231f20" stroke="#231f20" stroke-width="0.3">(dBµV/m)</text>
</g>
<text x="50.61" y="484.4" font-size="16.5" textLength="29.08" lengthAdjust="spacingAndGlyphs" font-family="Liberation Sans, sans-serif" font-weight="bold" fill="#231f20" stroke="#231f20" stroke-width="0.3">−20</text>
<text x="54.49" y="426.4" font-size="16.5" textLength="25.14" lengthAdjust="spacingAndGlyphs" font-family="Liberation Sans, sans-serif" font-weight="bold" fill="#231f20" stroke="#231f20" stroke-width="0.3">−10</text>
<text x="69.73" y="371.4" font-size="16.5" textLength="9.68" lengthAdjust="spacingAndGlyphs" font-family="Liberation Sans, sans-serif" font-weight="bold" fill="#231f20" stroke="#231f20" stroke-width="0.3">0</text>
<text x="63.82" y="316.5" font-size="16.5" textLength="15.66" lengthAdjust="spacingAndGlyphs" font-family="Liberation Sans, sans-serif" font-weight="bold" fill="#231f20" stroke="#231f20" stroke-width="0.3">10</text>
<text x="60.41" y="261.6" font-size="16.5" textLength="19.10" lengthAdjust="spacingAndGlyphs" font-family="Liberation Sans, sans-serif" font-weight="bold" fill="#231f20" stroke="#231f20" stroke-width="0.3">20</text>
<text x="60.41" y="206.6" font-size="16.5" textLength="19.10" lengthAdjust="spacingAndGlyphs" font-family="Liberation Sans, sans-serif" font-weight="bold" fill="#231f20" stroke="#231f20" stroke-width="0.3">30</text>
<text x="60.10" y="151.7" font-size="16.5" textLength="19.42" lengthAdjust="spacingAndGlyphs" font-family="Liberation Sans, sans-serif" font-weight="bold" fill="#231f20" stroke="#231f20" stroke-width="0.3">40</text>
<text x="59.80" y="96.7" font-size="16.5" textLength="19.73" lengthAdjust="spacingAndGlyphs" font-family="Liberation Sans, sans-serif" font-weight="bold" fill="#231f20" stroke="#231f20" stroke-width="0.3">50</text>
<text x="60.41" y="40.8" font-size="16.5" textLength="19.11" lengthAdjust="spacingAndGlyphs" font-family="Liberation Sans, sans-serif" font-weight="bold" fill="#231f20" stroke="#231f20" stroke-width="0.3">60</text>
<text x="77.40" y="503.4" font-size="16.5" textLength="21.19" lengthAdjust="spacingAndGlyphs" font-family="Liberation Sans, sans-serif" font-weight="bold" fill="#231f20" stroke="#231f20" stroke-width="0.3">0.1</text>
<text x="220.55" y="503.4" font-size="16.5" textLength="7.48" lengthAdjust="spacingAndGlyphs" font-family="Liberation Sans, sans-serif" font-weight="bold" fill="#231f20" stroke="#231f20" stroke-width="0.3">1</text>
<text x="353.88" y="503.4" font-size="16.5" textLength="16.50" lengthAdjust="spacingAndGlyphs" font-family="Liberation Sans, sans-serif" font-weight="bold" fill="#231f20" stroke="#231f20" stroke-width="0.3">10</text>
<text x="486.52" y="503.4" font-size="16.5" textLength="27.04" lengthAdjust="spacingAndGlyphs" font-family="Liberation Sans, sans-serif" font-weight="bold" fill="#231f20" stroke="#231f20" stroke-width="0.3">100</text>
<text x="621.38" y="503.4" font-size="16.5" textLength="37.60" lengthAdjust="spacingAndGlyphs" font-family="Liberation Sans, sans-serif" font-weight="bold" fill="#231f20" stroke="#231f20" stroke-width="0.3">1000</text>
</g>
</svg>
</body></html>
